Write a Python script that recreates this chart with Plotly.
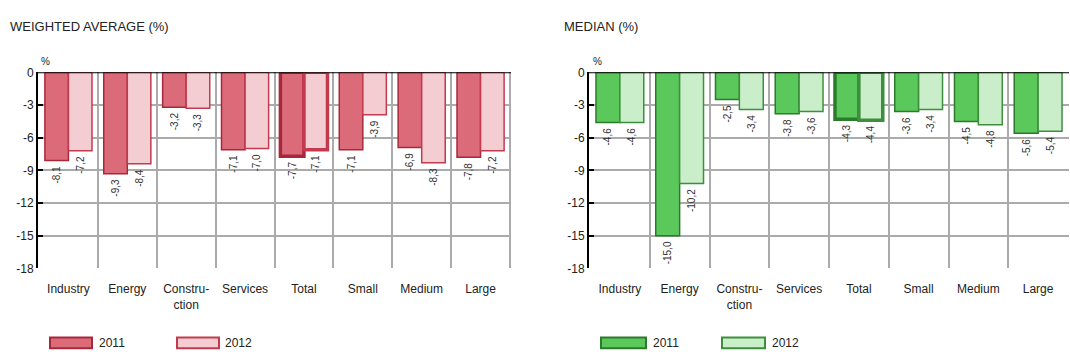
import plotly.graph_objects as go

categories = ["Industry", "Energy", "Constru-<br>ction", "Services", "Total", "Small", "Medium", "Large"]
wavg_2011 = [-8.1, -9.3, -3.2, -7.1, -7.7, -7.1, -6.9, -7.8]
wavg_2012 = [-7.2, -8.4, -3.3, -7.0, -7.1, -3.9, -8.3, -7.2]
median_2011 = [-4.6, -15.0, -2.5, -3.8, -4.3, -3.6, -4.5, -5.6]
median_2012 = [-4.6, -10.2, -3.4, -3.6, -4.4, -3.4, -4.8, -5.4]
y_ticks = [0, -3, -6, -9, -12, -15, -18]
series_names = ["2011", "2012"]
titles = ["WEIGHTED AVERAGE (%)", "MEDIAN (%)"]

FONT = "Liberation Sans, Arial, sans-serif"
W, H = 1070, 360

red = dict(f11="#DC6B7A", l11="#A8283B", f12="#F4CDD3", l12="#C23A4D")
green = dict(f11="#5BC85B", l11="#2C7A2C", f12="#C9EEC9", l12="#3D8F3D")

fig = go.Figure()

def px_x(p):
    return p / W

def px_y(p):
    return 1 - p / H

panels = [
    dict(x="x", y="y", xa="xaxis", ya="yaxis", dom=[38, 511], v11=wavg_2011, v12=wavg_2012, c=red,
         title_x=8, pct_x=45, leg=[(50, 92, 97), (177, 219, 223)]),
    dict(x="x2", y="y2", xa="xaxis2", ya="yaxis2", dom=[589, 1069], v11=median_2011, v12=median_2012, c=green,
         title_x=562, pct_x=597, leg=[(601, 646, 651), (722, 765, 770)]),
]

total_idx = categories.index("Total")
shapes = []
annotations = []
for pi, p in enumerate(panels):
    c = p["c"]
    for vals, fc, lc, nm in [(p["v11"], c["f11"], c["l11"], "2011"), (p["v12"], c["f12"], c["l12"], "2012")]:
        widths = [3.5 if i == total_idx else 1.5 for i in range(len(categories))]
        fig.add_trace(go.Bar(
            x=categories, y=vals, name=nm, xaxis=p["x"], yaxis=p["y"],
            marker=dict(color=fc, line=dict(color=lc, width=widths)),
            texttemplate="%{y:.1f}\u00a0", textposition="outside", textangle=-90,
            textfont=dict(family=FONT, size=10, color="#333333"),
            constraintext="none", cliponaxis=False, showlegend=False,
        ))
    fig.layout[p["xa"]] = dict(
        domain=[px_x(p["dom"][0]), px_x(p["dom"][1])], anchor=p["y"],
        type="category", tickson="boundaries", showgrid=True, gridcolor="#ABABAB", gridwidth=1.5,
        showline=False, ticks="", ticklabelstandoff=12, tickangle=0,
        tickfont=dict(family=FONT, size=12, color="#222222"), fixedrange=True,
    )
    fig.layout[p["ya"]] = dict(
        domain=[px_y(272), px_y(68)], anchor=p["x"], range=[-18, 0],
        tickvals=y_ticks, ticktext=[str(v) for v in y_ticks],
        showgrid=True, gridcolor="#ABABAB", gridwidth=1.5, zeroline=False,
        showline=True, linecolor="#000000", linewidth=2,
        ticks="inside", ticklen=5, tickcolor="#000000", tickwidth=2,
        tickfont=dict(family=FONT, size=12, color="#222222"), fixedrange=True,
    )
    # top black line at 0
    shapes.append(dict(type="line", xref=p["x"] + " domain", yref=p["y"], x0=0, x1=1, y0=0, y1=0,
                       line=dict(color="#000000", width=2)))
    for i in range(len(categories) + 1):
        shapes.append(dict(type="line", xref=p["x"], yref=p["y"], x0=i - 0.5, x1=i - 0.5,
                           ysizemode="pixel", yanchor=0, y0=0, y1=5,
                           line=dict(color="#000000", width=2)))
    annotations.append(dict(text=titles[pi], xref="paper", yref="paper", x=px_x(p["title_x"]), y=px_y(20),
                            xanchor="left", yanchor="middle", showarrow=False,
                            font=dict(family=FONT, size=13, color="#222222")))
    annotations.append(dict(text="%", xref="paper", yref="paper", x=px_x(p["pct_x"]), y=px_y(57),
                            xanchor="center", yanchor="middle", showarrow=False,
                            font=dict(family=FONT, size=10, color="#222222")))
    for (x0, x1, tx), nm, fc, lc in zip(p["leg"], series_names, [c["f11"], c["f12"]], [c["l11"], c["l12"]]):
        shapes.append(dict(type="rect", xref="paper", yref="paper", x0=px_x(x0), x1=px_x(x1),
                           y0=px_y(355), y1=px_y(344), fillcolor=fc, line=dict(color=lc, width=2)))
        annotations.append(dict(text=nm, xref="paper", yref="paper", x=px_x(tx), y=px_y(350),
                                xanchor="left", yanchor="middle", showarrow=False,
                                font=dict(family=FONT, size=12, color="#222222")))

fig.update_layout(
    width=W, height=H, margin=dict(l=0, r=0, t=0, b=0),
    paper_bgcolor="white", plot_bgcolor="white",
    barmode="group", bargap=0.2, bargroupgap=0,
    separators=",.", showlegend=False,
    shapes=shapes, annotations=annotations,
    font=dict(family=FONT, color="#222222"),
)

fig.write_html("out.html")
